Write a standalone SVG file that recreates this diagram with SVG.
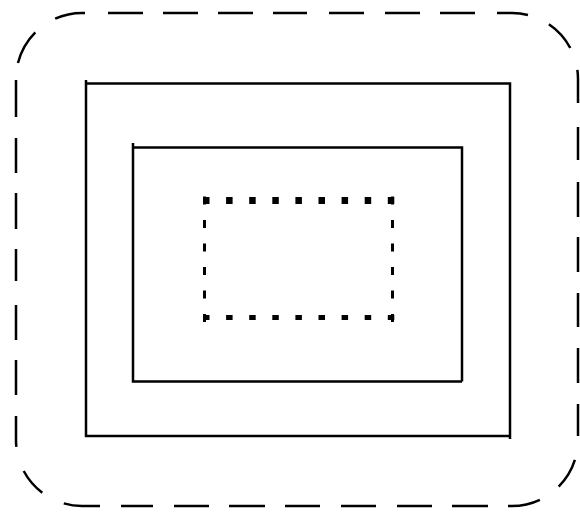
<svg xmlns="http://www.w3.org/2000/svg" width="580" height="514" viewBox="0 0 580 514">
<style>
.solid{fill:none;stroke:#000;stroke-width:2.5}
.outer{fill:none;stroke:#000;stroke-width:2.5;stroke-linecap:butt}
.dotT{fill:none;stroke:#000;stroke-width:7;stroke-dasharray:6.5 16.6}
.dotB{fill:none;stroke:#000;stroke-width:5;stroke-dasharray:6.5 16.6}
.dotV{fill:none;stroke:#000;stroke-width:3;stroke-dasharray:8 15.5}
</style>
<rect width="580" height="514" fill="#fff"/>
<g id="outer">
<path class="outer" d="
M17.96 63.03 A66 66 0 0 1 35.33 32.33
M55.16 18.71 A66 66 0 0 1 82 13 H85
M108 13 H143 M163 13 H198 M218 13 H253 M273 13 H307 M329 13 H364 M385 13 H420 M440 13 H475
M497 13 H512 A66 66 0 0 1 527.97 14.96
M548.9 24.29 A66 66 0 0 1 570.27 48.01
M577.36 69.81 A66 66 0 0 1 578 79 V103
M578 127 V160 M578 182 V217 M578 237 V272 M578 293 V327 M578 348 V383 M578 404 V436
M574.9 459.96 A66 66 0 0 1 558.67 486.67
M539.9 499.8 A66 66 0 0 1 512 506 H508
M488 506 H452 M432 506 H397 M376 506 H341 M320 506 H285 M265 506 H229 M209 506 H174 M153 506 H121
M100 506 H82 A66 66 0 0 1 63.8 503.4
M42.28 492.7 A66 66 0 0 1 23.73 471
M16.36 446.9 A66 66 0 0 1 16 440 V416
M16 395 V360 M16 340 V305 M16 281 V249 M16 229 V193 M16 173 V138 M16 117 V80"/>
</g>
<g id="large">
<path class="solid" d="M86 80 V436 H510 M86 83.5 H510 V439"/>
</g>
<g id="middle">
<path class="solid" d="M133 143 V381.5 H462 M133 147.5 H462 V381.5"/>
</g>
<g id="inner">
<path class="dotT" d="M203 200.5 H396"/>
<path class="dotB" d="M203 317.5 H396"/>
<path class="dotV" d="M204.5 196.5 V324 M392.5 196.5 V324"/>
</g>
<g id="connectors"/>
</svg>
